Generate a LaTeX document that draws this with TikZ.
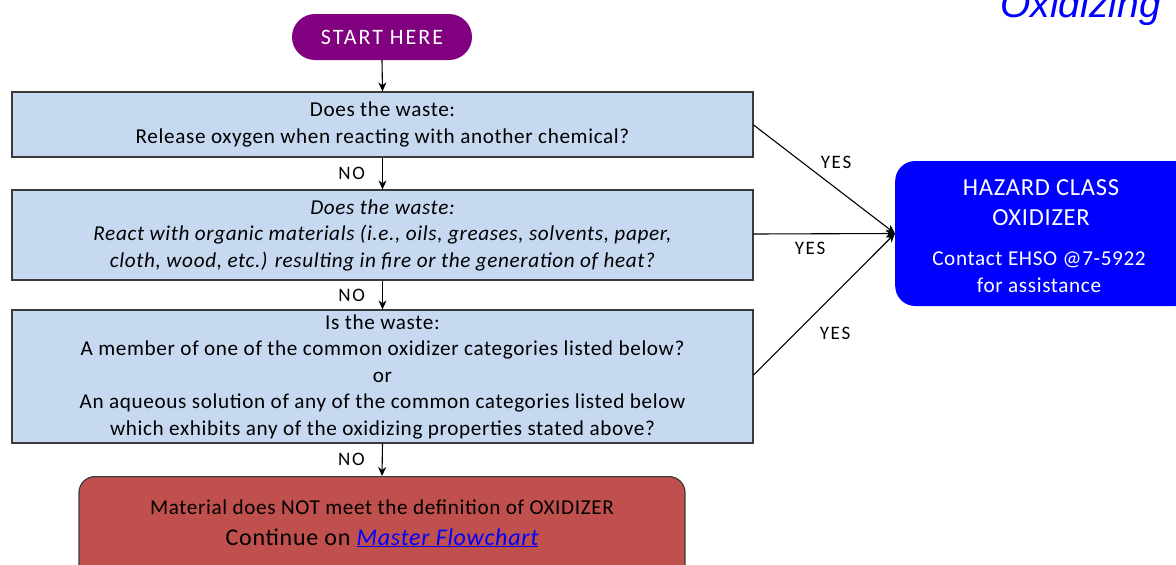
\documentclass[tikz,border=0pt]{standalone}
\usepackage{fontspec}
\setmainfont{Carlito}[LetterSpace=3]
\newfontfamily\widefont{Carlito}[LetterSpace=9]
\newfontfamily\headfont{Liberation Sans}
\usetikzlibrary{arrows.meta}
\definecolor{qfill}{HTML}{C6D9F1}
\definecolor{qline}{HTML}{3A3A3A}
\definecolor{startc}{HTML}{800080}
\definecolor{endc}{HTML}{C0504D}
\definecolor{hzc}{HTML}{0000FF}
\tikzset{
  qbox/.style={draw=qline, line width=1.2pt, fill=qfill, minimum width=741pt, inner sep=0pt, align=center,
    font=\fontsize{21.2}{26.5}\selectfont, text=black},
  flow/.style={draw=black, line width=1.1pt, -{Stealth[length=9pt,width=8pt]}},
  lbl/.style={font=\widefont\fontsize{19}{20}\selectfont, text=black, inner sep=0pt},
}
\begin{document}
\begin{tikzpicture}[x=1pt,y=-1pt]
\useasboundingbox (0,0) rectangle (1176,565);
\clip (0,0) rectangle (1176,565);

% page title, partly cut off at the top edge
\node[anchor=base east, inner sep=0pt, text=hzc, font=\headfont\itshape\fontsize{39}{42}\selectfont] (title) at (1161,17) {Oxidizing};

% start terminal
\node[fill=startc, rounded corners=23pt, minimum width=180pt, minimum height=46pt, inner sep=0pt,
  text=white, font=\widefont\fontsize{22}{24}\selectfont] (start) at (382,37) {START HERE};

% question boxes
\node[qbox, minimum height=65pt] (q1) at (382.5,124.5)
  {Does the waste:\\Release oxygen when reacting with another chemical?};
\node[qbox, minimum height=90pt, font=\fontsize{21.2}{26.5}\selectfont\itshape] (q2) at (382.5,235)
  {Does the waste:\\React with organic materials (i.e., oils, greases, solvents, paper,\\cloth, wood, etc.) resulting in fire or the generation of heat?};
\node[qbox, minimum height=133pt] (q3) at (382.5,376.5)
  {Is the waste:\\A member of one of the common oxidizer categories listed below?\\or\\An aqueous solution of any of the common categories listed below\\which exhibits any of the oxidizing properties stated above?};

% outcome boxes
\node[draw=qline, line width=1.2pt, fill=endc, rounded corners=16pt, minimum width=606pt, minimum height=110pt,
  inner sep=0pt, align=center, anchor=north] (none) at (382,476) {};
\node[font=\fontsize{21.2}{24}\selectfont, inner sep=0pt, anchor=base] (nonea) at (382,514)
  {Material does NOT meet the definition of OXIDIZER};
\node[font=\fontsize{24}{26}\selectfont, inner sep=0pt, anchor=base] (noneb) at (382,545)
  {Continue on {\color{blue}\underline{\itshape Master Flowchart}}};

\node[fill=hzc, rounded corners=20pt, minimum width=300pt, minimum height=145pt, inner sep=0pt,
  anchor=west] (hz) at (895,233.5) {};
\node[text=white, font=\fontsize{24.5}{30}\selectfont, inner sep=0pt, anchor=base] (hza) at (1041,195) {HAZARD CLASS};
\node[text=white, font=\fontsize{24.5}{30}\selectfont, inner sep=0pt, anchor=base] (hzb) at (1041,225) {OXIDIZER};
\node[text=white, font=\fontsize{21.2}{26}\selectfont, inner sep=0pt, anchor=base] (hzc1) at (1039,265) {Contact EHSO @7-5922};
\node[text=white, font=\fontsize{21.2}{26}\selectfont, inner sep=0pt, anchor=base] (hzc2) at (1039,292) {for assistance};

% NO path
\draw[flow] (start.south) -- (q1.north);
\draw[flow] (q1.south) -- node[lbl, left=17pt] {NO} (q2.north);
\draw[flow] (q2.south) -- node[lbl, left=17pt] {NO} (q3.north);
\draw[flow] (q3.south) -- node[lbl, left=17pt] {NO} (none.north);

% YES paths
\coordinate (tip) at (hz.west);
\coordinate (y1) at (q1.east |- 0,125);
\coordinate (y2) at (q2.east |- 0,234);
\coordinate (y3) at (q3.east |- 0,375);
\draw[flow] (y1) -- (tip);
\draw[flow] (y2) -- (tip);
\draw[flow] (y3) -- (tip);
\node[lbl] (yes1) at (836,162) {YES};
\node[lbl] (yes2) at (810,248) {YES};
\node[lbl] (yes3) at (835,333) {YES};
\end{tikzpicture}
\end{document}
